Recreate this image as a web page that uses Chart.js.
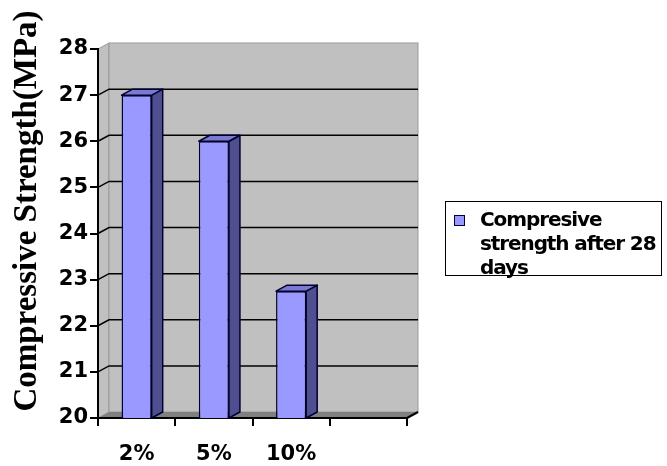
<!DOCTYPE html>
<html>
<head>
<meta charset="utf-8">
<script src="https://cdn.jsdelivr.net/npm/chart.js@4"></script>
<style>
    body { margin: 0; background: #fff; }
    #wrap { position: relative; width: 667px; height: 466px; }
    #legend {
        position: absolute; left: 445px; top: 201px; width: 215px; height: 73px;
        border: 1.5px solid #000; background: #fff;
        font: bold 20px "DejaVu Sans"; letter-spacing: -1.1px; line-height: 24px; color: #000;
        white-space: nowrap;
    }
    #legend .sw {
        position: absolute; left: 8px; top: 13px; width: 9px; height: 9px;
        background: #9999ff; border: 1px solid #000040;
    }
    #legend .txt { position: absolute; left: 34px; top: 5px; }
</style>
</head>
<body>
<div id="wrap">
    <canvas id="chart"></canvas>
    <div id="legend"></div>
</div>
<script>
// Data
const categories = ['2%', '5%', '10%'];
const strengths = [27.0, 26.0, 22.75];
const seriesLabel = ['Compresive', 'strength after 28', 'days'];
const yTitle = 'Compressive Strength(MPa)';
const yMin = 20;
const yMax = 28;

// 3D depth of walls / bars
const DX = 11;
const DY = -6;

// Draw back wall, left side wall and floor before anything else
const walls = {
    id: 'walls',
    beforeDraw(chart) {
        const { ctx, chartArea: a, scales } = chart;
        const y = scales.y;
        ctx.save();
        // side wall
        ctx.fillStyle = '#c0c0c0';
        ctx.strokeStyle = '#9a9a9a';
        ctx.lineWidth = 1;
        ctx.beginPath();
        ctx.moveTo(a.left, a.top);
        ctx.lineTo(a.left + DX, a.top + DY);
        ctx.lineTo(a.left + DX, a.bottom + DY);
        ctx.lineTo(a.left, a.bottom);
        ctx.closePath();
        ctx.fill();
        ctx.stroke();
        // back wall
        ctx.fillRect(a.left + DX, a.top + DY, a.right - a.left, a.bottom - a.top);
        ctx.strokeRect(a.left + DX, a.top + DY, a.right - a.left, a.bottom - a.top);
        // floor
        ctx.fillStyle = '#808080';
        ctx.beginPath();
        ctx.moveTo(a.left, a.bottom);
        ctx.lineTo(a.left + DX, a.bottom + DY);
        ctx.lineTo(a.right + DX, a.bottom + DY);
        ctx.lineTo(a.right, a.bottom);
        ctx.closePath();
        ctx.fill();
        // gridlines on walls
        ctx.strokeStyle = '#000';
        ctx.lineWidth = 1.5;
        y.ticks.forEach(t => {
            if (t.value <= yMin || t.value >= yMax) return;
            const py = y.getPixelForValue(t.value);
            ctx.beginPath();
            ctx.moveTo(a.left, py);
            ctx.lineTo(a.left + DX, py + DY);
            ctx.lineTo(a.right + DX, py + DY);
            ctx.stroke();
        });
        ctx.restore();
    },
    afterDraw(chart) {
        const { ctx, chartArea: a } = chart;
        ctx.save();
        ctx.strokeStyle = '#000';
        ctx.lineWidth = 2;
        ctx.beginPath();
        ctx.moveTo(a.right, a.bottom);
        ctx.lineTo(a.right + DX, a.bottom + DY);
        ctx.stroke();
        // rotated y-axis title
        ctx.translate(36, 211);
        ctx.rotate(-Math.PI / 2);
        ctx.font = 'bold 33px "Liberation Serif"';
        ctx.textAlign = 'center';
        ctx.textBaseline = 'alphabetic';
        ctx.fillStyle = '#000';
        ctx.fillText(yTitle, 0, 0);
        ctx.restore();
    }
};

// Side and top faces of every bar
const bars3d = {
    id: 'bars3d',
    afterDatasetsDraw(chart) {
        const ctx = chart.ctx;
        const bottom = chart.chartArea.bottom;
        const meta = chart.getDatasetMeta(0);
        ctx.save();
        ctx.strokeStyle = '#000033';
        ctx.lineWidth = 1.5;
        ctx.lineJoin = 'round';
        strengths.forEach((v, i) => {
            const bar = meta.data[i];
            const base = Math.min(bar.base, bottom);
            const r = bar.x + bar.width / 2;
            const l = bar.x - bar.width / 2;
            // side
            ctx.fillStyle = '#4f4f8f';
            ctx.beginPath();
            ctx.moveTo(r, bar.y);
            ctx.lineTo(r + DX, bar.y + DY);
            ctx.lineTo(r + DX, base + DY);
            ctx.lineTo(r, base);
            ctx.closePath();
            ctx.fill();
            ctx.stroke();
            // top
            ctx.fillStyle = '#7a7ad0';
            ctx.beginPath();
            ctx.moveTo(l, bar.y);
            ctx.lineTo(l + DX, bar.y + DY);
            ctx.lineTo(r + DX, bar.y + DY);
            ctx.lineTo(r, bar.y);
            ctx.closePath();
            ctx.fill();
            ctx.stroke();
        });
        ctx.restore();
    }
};

const tickFont = { family: 'DejaVu Sans', weight: 'bold', size: 21 };

new Chart(document.getElementById('chart'), {
    type: 'bar',
    data: {
        labels: [...categories, ''],
        datasets: [{
            label: seriesLabel.join(' '),
            data: [...strengths, null],
            backgroundColor: '#9999ff',
            borderColor: '#000033',
            borderWidth: 1.5,
            barPercentage: 0.39,
            categoryPercentage: 1
        }]
    },
    options: {
        responsive: true,
        maintainAspectRatio: false,
        animation: false,
        layout: { padding: { left: 40, top: 49, right: 260, bottom: 0 } },
        plugins: {
            legend: { display: false },
            tooltip: { enabled: false }
        },
        scales: {
            x: {
                afterFit: s => { s.height = 48; },
                grid: { drawOnChartArea: false, color: '#000', lineWidth: 2, tickLength: 8, offset: true },
                border: { display: true, color: '#000', width: 2 },
                ticks: { color: '#000', font: tickFont, padding: 16, maxRotation: 0 }
            },
            y: {
                min: yMin,
                max: yMax,
                afterFit: s => { s.width = 58; },
                grid: { drawOnChartArea: false, color: '#000', lineWidth: 2, tickLength: 8 },
                border: { display: true, color: '#000', width: 2 },
                ticks: { stepSize: 1, color: '#000', font: tickFont, padding: 2 }
            }
        }
    },
    plugins: [walls, bars3d]
});

// Legend as html box
document.getElementById('legend').innerHTML =
    '<div class="sw"></div><div class="txt">' + seriesLabel.join('<br>') + '</div>';
</script>
</body>
</html>
